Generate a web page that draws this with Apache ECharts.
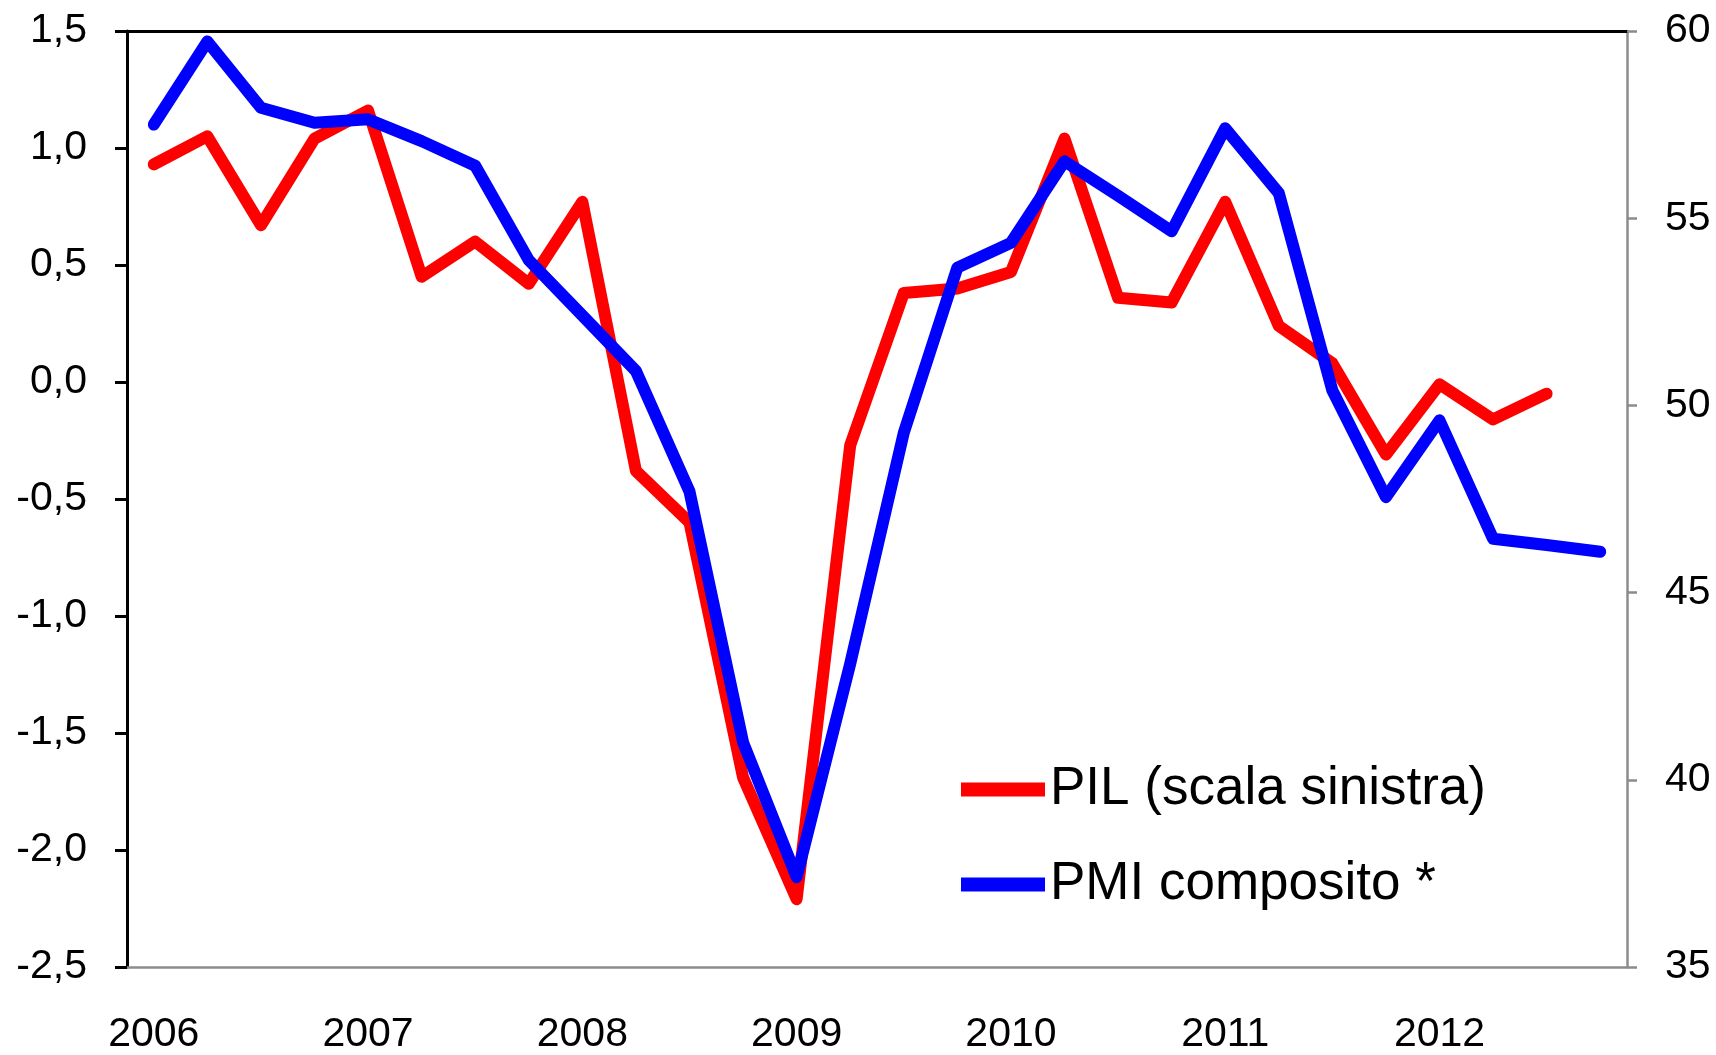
<!DOCTYPE html>
<html lang="it">
  <head>
    <meta charset="UTF-8" />
    <title>PIL e PMI composito</title>
    <script src="https://cdn.jsdelivr.net/npm/echarts@6/dist/echarts.min.js"></script>
    <style>
      html,
      body {
        margin: 0;
        padding: 0;
        background: #fff;
      }
      #main {
        width: 1716px;
        height: 1055px;
      }
    </style>
  </head>
  <body>
    <div id="main"></div>
    <script>
      // trimestri 2006 T1 - 2012 T4
      const years = ["2006", "2007", "2008", "2009", "2010", "2011", "2012"];
      const quarters = years.flatMap((y) => [y + " T1", y + " T2", y + " T3", y + " T4"]);

      // PIL, variazione % trimestrale (scala sinistra)
      const pil = [
        0.93, 1.05, 0.67, 1.04, 1.16, 0.45, 0.6, 0.42, 0.77, -0.38, -0.6,
        -1.69, -2.21, -0.27, 0.38, 0.4, 0.47, 1.04, 0.36, 0.34, 0.77, 0.24,
        0.08, -0.31, -0.01, -0.16, -0.05,
      ];

      // PMI composito (scala destra)
      const pmi = [
        57.5, 59.72, 57.95, 57.55, 57.64, 57.06, 56.4, 53.88, 52.4, 50.92,
        47.7, 41.0, 37.4, 43.1, 49.27, 53.68, 54.34, 56.52, 55.6, 54.65, 57.4,
        55.67, 50.4, 47.55, 49.6, 46.44, 46.27, 46.09,
      ];

      const font = "Liberation Sans, Arial, sans-serif";
      const gray = "#8c8c8c";

      const chart = echarts.init(document.getElementById("main"));
      chart.setOption({
        backgroundColor: "#fff",
        animation: false,
        grid: { left: 127, right: 89, top: 31, bottom: 80 },
        legend: {
          orient: "vertical",
          left: 956,
          top: 758,
          itemWidth: 84,
          itemHeight: 14,
          itemGap: 42,
          icon: "rect",
          textStyle: { fontFamily: font, fontSize: 53, color: "#000" },
          data: ["PIL (scala sinistra)", "PMI composito *"],
        },
        xAxis: [
          {
            type: "category",
            data: quarters,
            position: "bottom",
            boundaryGap: true,
            axisLine: { onZero: false, lineStyle: { color: gray, width: 2.5 } },
            axisTick: { show: false },
            axisLabel: {
              interval: 3,
              margin: 47,
              fontFamily: font,
              fontSize: 41,
              color: "#000",
              formatter: (v) => v.slice(0, 4),
            },
          },
          {
            type: "category",
            data: quarters,
            position: "top",
            axisLine: { onZero: false, lineStyle: { color: "#000", width: 3 } },
            axisTick: { show: false },
            axisLabel: { show: false },
          },
        ],
        yAxis: [
          {
            type: "value",
            position: "left",
            min: -2.5,
            max: 1.5,
            interval: 0.5,
            splitLine: { show: false },
            axisLine: { show: true, onZero: false, lineStyle: { color: "#000", width: 3 } },
            axisTick: { show: true, length: 12, lineStyle: { color: "#000", width: 3 } },
            axisLabel: {
              margin: 40,
              fontFamily: font,
              fontSize: 41,
              color: "#000",
              formatter: (v) => v.toFixed(1).replace(".", ","),
            },
          },
          {
            type: "value",
            position: "right",
            min: 35,
            max: 60,
            interval: 5,
            splitLine: { show: false },
            axisLine: { show: true, onZero: false, lineStyle: { color: gray, width: 2.5 } },
            axisTick: { show: true, length: 10, lineStyle: { color: gray, width: 2.5 } },
            axisLabel: {
              margin: 38,
              fontFamily: font,
              fontSize: 41,
              color: "#000",
            },
          },
        ],
        series: [
          {
            name: "PIL (scala sinistra)",
            type: "line",
            yAxisIndex: 0,
            data: pil,
            showSymbol: false,
            symbol: "none",
            color: "#ff0000",
            lineStyle: { width: 12, color: "#ff0000", join: "round", cap: "round" },
          },
          {
            name: "PMI composito *",
            type: "line",
            yAxisIndex: 1,
            data: pmi,
            showSymbol: false,
            symbol: "none",
            color: "#0000ff",
            lineStyle: { width: 12, color: "#0000ff", join: "round", cap: "round" },
          },
        ],
      });
    </script>
  </body>
</html>
